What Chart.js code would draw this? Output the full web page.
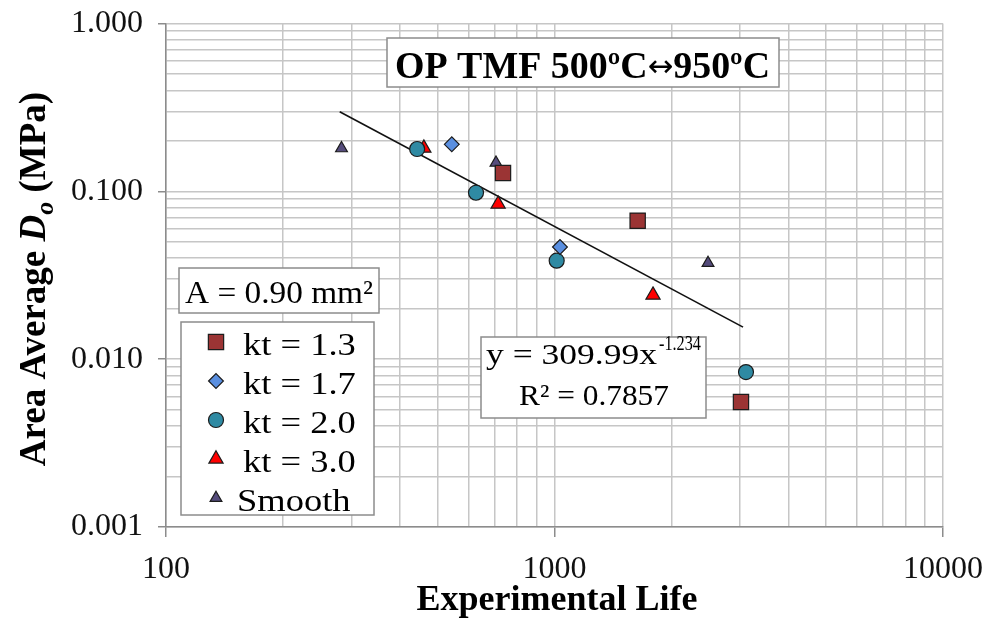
<!DOCTYPE html>
<html>
<head>
<meta charset="utf-8">
<script src="https://cdn.jsdelivr.net/npm/chart.js@4"></script>
<style>
  html, body { margin: 0; background: #fff; }
</style>
</head>
<body>
<canvas id="chart" width="990" height="619"></canvas>
<script>
const SERIF = '"Liberation Serif", "Times New Roman", serif';

// Values: experimental life (cycles) vs area average Do (MPa)
const kt13Life = [737, 1637, 3020];
const kt13Do = [0.1285, 0.0668, 0.00555];
const kt17Life = [544, 1033];
const kt17Do = [0.1906, 0.0466];
const kt20Life = [443, 628, 1013, 3111];
const kt20Do = [0.1787, 0.0981, 0.0386, 0.00838];
const kt30Life = [461, 716, 1793];
const kt30Do = [0.1811, 0.0840, 0.0241];
const smoothLife = [283, 707, 2484];
const smoothDo = [0.1804, 0.148, 0.0374];
// power-law trend line, end points as drawn
const fitLife = [280, 3057];
const fitDo = [0.298, 0.01553];

const xDecades = [100, 1000, 10000];
const yDecades = [0.001, 0.01, 0.1, 1];
const minorSteps = [1, 2, 3, 4, 5, 6, 7, 8, 9];

const GRID = '#c6c6c6';
const AXIS = '#8c8c8c';

const isDecade = (v) => Math.abs(Math.log10(v) - Math.round(Math.log10(v))) < 1e-6;
const gridVals = (dec) => {
  const out = [];
  for (let i = 0; i < dec.length - 1; i++) for (const m of minorSteps) out.push(dec[i] * m);
  out.push(dec[dec.length - 1]);
  return out;
};
const pts = (xs, ys) => xs.map((x, i) => ({ x, y: ys[i] }));
const series = (label, xs, ys, style, r, fill) => ({
  label, data: pts(xs, ys), pointStyle: style, pointRadius: r, pointHoverRadius: r,
  backgroundColor: fill, borderColor: '#1c1c1c', borderWidth: 1.2, showLine: false, order: 0,
});

const datasets = [
  { label: 'fit', data: pts(fitLife, fitDo), showLine: true, borderColor: '#111', borderWidth: 1.6, pointRadius: 0, pointHoverRadius: 0, order: 10 },
  series('kt = 1.3', kt13Life, kt13Do, 'rect', 10.8, '#9b3434'),
  series('kt = 1.7', kt17Life, kt17Do, 'rectRot', 7.4, '#5a8fe0'),
  series('kt = 2.0', kt20Life, kt20Do, 'circle', 7.5, '#2f8aa3'),
  series('kt = 3.0', kt30Life, kt30Do, 'triangle', 8.2, '#ff0000'),
  series('Smooth', smoothLife, smoothDo, 'triangle', 6.8, '#554c7c'),
];

// text squeezed or stretched horizontally to a given width
function fitText(ctx, text, x, y, w) {
  const s = w / ctx.measureText(text).width;
  ctx.save(); ctx.translate(x, y); ctx.scale(s, 1); ctx.fillText(text, 0, 0); ctx.restore();
}
// several runs in different fonts, fitted together to a width
function fitRuns(ctx, runs, x, y, w) {
  let total = 0;
  for (const r of runs) { ctx.font = r.f; r.w = ctx.measureText(r.t).width; total += r.w; }
  ctx.save(); ctx.translate(x, y); ctx.scale(w / total, 1);
  let cx = 0;
  for (const r of runs) { ctx.font = r.f; ctx.fillText(r.t, cx, r.dy || 0); cx += r.w; }
  ctx.restore();
}
function box(ctx, x, y, w, h) {
  ctx.fillStyle = '#fff'; ctx.fillRect(x, y, w, h);
  ctx.strokeStyle = AXIS; ctx.lineWidth = 1.5; ctx.strokeRect(x, y, w, h);
}

const notes = {
  id: 'notes',
  afterDatasetsDraw(chart) {
    const ctx = chart.ctx;
    ctx.save();
    ctx.textBaseline = 'alphabetic';
    ctx.textAlign = 'left';

    // title box
    box(ctx, 387, 38, 392, 49);
    ctx.fillStyle = '#000';
    const tf = `bold 37px ${SERIF}`;
    fitRuns(ctx, [
      { t: 'OP TMF 500ºC', f: tf },
      { t: '↔', f: '30px "DejaVu Sans"', dy: -2 },
      { t: '950ºC', f: tf },
    ], 395, 78, 375);

    // area box
    box(ctx, 179, 268, 200, 45);
    ctx.fillStyle = '#000';
    ctx.font = `32px ${SERIF}`;
    fitText(ctx, 'A = 0.90 mm²', 185, 303, 188);

    // legend
    box(ctx, 181, 322, 193, 193);
    const H = Chart.helpers;
    datasets.slice(1).forEach((d, i) => {
      const y = 342 + i * 39;
      ctx.fillStyle = d.backgroundColor; ctx.strokeStyle = d.borderColor; ctx.lineWidth = d.borderWidth;
      H.drawPoint(ctx, { pointStyle: d.pointStyle, radius: d.pointRadius, rotation: 0, borderWidth: d.borderWidth }, 216, y);
      ctx.fillStyle = '#000';
      ctx.font = `32px ${SERIF}`;
      const w = ctx.measureText(d.label).width * 1.14;
      fitText(ctx, d.label, d.label === 'Smooth' ? 237 : 243, y + 13, w);
    });

    // equation box
    box(ctx, 481, 337, 225, 81);
    ctx.fillStyle = '#000';
    ctx.font = `30px ${SERIF}`;
    fitText(ctx, 'y = 309.99x', 486, 364, 171);
    ctx.font = `21px ${SERIF}`;
    fitText(ctx, '-1.234', 659, 350, 42);
    ctx.font = `30px ${SERIF}`;
    fitText(ctx, 'R² = 0.7857', 519, 405, 150);

    // x title
    ctx.font = `bold 36px ${SERIF}`;
    ctx.textAlign = 'center';
    ctx.fillText('Experimental Life', 557, 610);

    // y title with italic D and subscript o
    ctx.translate(32, 279);
    ctx.rotate(-Math.PI / 2);
    ctx.textAlign = 'left';
    const parts = [
      { t: 'Area Average ', f: `bold 37px ${SERIF}`, dy: 0 },
      { t: 'D', f: `italic bold 37px ${SERIF}`, dy: 0 },
      { t: 'o', f: `italic bold 26px ${SERIF}`, dy: 8 },
      { t: ' (MPa)', f: `bold 37px ${SERIF}`, dy: 0 },
    ];
    let total = 0;
    for (const p of parts) { ctx.font = p.f; p.w = ctx.measureText(p.t).width; total += p.w; }
    let x = -total / 2;
    for (const p of parts) { ctx.font = p.f; ctx.fillText(p.t, x, 12.5 + p.dy); x += p.w; }
    ctx.restore();
  },
};

const axis = (decades, label, fit, tickLen, pad) => ({
  type: 'logarithmic',
  min: decades[0],
  max: decades[decades.length - 1],
  afterBuildTicks: (s) => { s.ticks = gridVals(decades).map((v) => ({ value: v })); },
  afterFit: (s) => { fit(s); s.paddingTop = 0; s.paddingBottom = 0; s.paddingLeft = 0; s.paddingRight = 0; },
  grid: {
    color: GRID, lineWidth: 1.5, tickLength: tickLen,
    tickColor: (c) => (c.tick && isDecade(c.tick.value) ? AXIS : 'rgba(0,0,0,0)'),
  },
  border: { color: AXIS, width: 1.5 },
  ticks: {
    autoSkip: false, maxRotation: 0, minRotation: 0, color: '#111', padding: pad,
    font: { family: SERIF, size: 32 },
    callback: (v) => (isDecade(v) ? label(v) : ''),
  },
});

new Chart(document.getElementById('chart'), {
  type: 'scatter',
  data: { datasets },
  options: {
    responsive: false,
    animation: false,
    layout: { padding: { left: 0, right: 47, top: 23.5, bottom: 0 } },
    scales: {
      x: axis(xDecades, (v) => String(Math.round(v)), (s) => { s.height = 92; }, 10, 13),
      y: axis(yDecades, (v) => v.toFixed(3), (s) => { s.width = 166; }, 8, 15),
    },
    plugins: { legend: { display: false }, tooltip: { enabled: false } },
  },
  plugins: [notes],
});
</script>
</body>
</html>
